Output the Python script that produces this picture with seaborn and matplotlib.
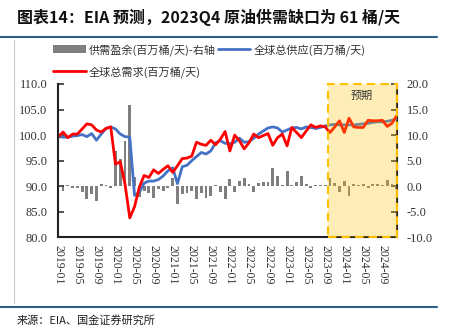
import numpy as np
import pandas as pd
import matplotlib
matplotlib.use('Agg')
import matplotlib.pyplot as plt
import seaborn as sns
from matplotlib.lines import Line2D
from matplotlib.patches import Patch, Rectangle

# ---------------- data ----------------
months = pd.date_range('2019-01-01', periods=72, freq='MS').strftime('%Y-%m').tolist()

demand = [99.7, 100.6, 99.5, 100.2, 100.2, 101.2, 102.2, 102.0, 101.0, 100.6, 101.3, 101.6,
          94.3, 94.8, 90.4, 83.8, 86.0, 89.8, 92.1, 91.7, 93.2, 92.5, 93.3, 94.0,
          92.7, 94.0, 95.4, 95.5, 95.9, 98.6, 98.2, 98.0, 99.0, 98.1, 99.2, 100.7,
          96.9, 100.0, 98.9, 97.3, 98.5, 100.2, 99.5, 99.9, 100.3, 98.0, 99.5, 100.2,
          97.9, 101.5, 100.5, 99.5, 100.8, 102.0, 101.5, 101.8, 101.6, 100.5, 101.6, 102.8,
          100.5, 103.3, 101.6, 101.5, 101.5, 102.9, 102.8, 102.8, 102.9, 101.7, 102.3, 103.8]

supply = [99.7, 99.6, 99.6, 99.8, 99.9, 100.1, 99.7, 100.3, 99.0, 100.2, 101.3, 101.6,
          101.2, 100.2, 99.7, 99.6, 88.2, 88.8, 90.6, 91.0, 91.0, 91.3, 92.0, 93.0,
          93.6, 90.5, 93.8, 94.1, 95.0, 95.8, 96.6, 96.3, 96.9, 98.5, 98.9, 98.4,
          98.3, 98.6, 99.4, 98.6, 98.7, 99.4, 100.2, 100.8, 101.4, 101.6, 101.4, 100.6,
          101.0, 101.4, 101.5, 101.2, 101.6, 101.5, 101.3, 101.5, 101.8, 102.0, 102.1, 102.0,
          102.0, 102.0, 102.0, 102.1, 102.2, 102.3, 102.5, 102.6, 102.6, 102.7, 102.9, 103.2]

surplus = [0.0, -1.0, 0.2, -0.3, -0.3, -1.2, -2.6, -1.6, -2.8, 0.4, 0.3, -0.3,
           6.9, 5.4, 8.8, 15.8, 1.8, -2.1, -1.0, -1.4, -2.3, -0.6, -1.0, -0.4,
           1.6, -3.5, -1.6, -1.3, -0.9, -2.6, -1.4, -2.4, -1.9, 0.3, -1.2, -2.5,
           1.4, -1.2, 1.0, 1.7, 0.5, -1.2, 0.7, 0.8, 0.9, 3.5, 2.0, 0.3,
           3.0, 0.3, 0.9, 2.0, 0.5, -0.3, 0.3, 0.3, 0.3, 1.6, 0.6, -1.2,
           1.0, -1.9, 0.5, 0.3, 0.5, -0.3, 0.4, 0.5, 0.2, 1.2, 0.5, -0.5]

tick_labels = months[::4]
forecast_start = 56.5
forecast_label = '预期'
series_names = ['供需盈余(百万桶/天)-右轴', '全球总需求(百万桶/天)', '全球总供应(百万桶/天)']
title = '图表14：EIA 预测，2023Q4 原油供需缺口为 61 桶/天'
source = '来源：EIA、国金证券研究所'

# ---------------- style ----------------
sns.set_theme(style='white')
plt.rcParams['font.family'] = ['Noto Sans CJK SC', 'DejaVu Sans']
plt.rcParams['axes.unicode_minus'] = False

GRAY = '#7F7F7F'
RED = '#FF0000'
BLUE = '#4472C4'

df = pd.DataFrame({'idx': np.arange(len(months)), 'month': months,
                   'demand': demand, 'supply': supply, 'surplus': surplus})

fig = plt.figure(figsize=(4.52, 3.35), dpi=100)
ax = fig.add_axes([58.3 / 452, 1 - 237.3 / 335, (396.7 - 58.3) / 452, (237.3 - 84) / 335])
ax2 = ax.twinx()

sns.barplot(data=df, x='idx', y='surplus', ax=ax2, native_scale=True, color=GRAY,
            width=0.6, saturation=1, errorbar=None, linewidth=0, edgecolor='none')

ax.set_zorder(ax2.get_zorder() + 1)
ax.patch.set_visible(False)

sns.lineplot(data=df, x='idx', y='supply', ax=ax, color=BLUE, lw=2)
sns.lineplot(data=df, x='idx', y='demand', ax=ax, color=RED, lw=2)

ax.set_xlim(0, len(months) - 1)
ax.set_ylim(80, 110)
ax2.set_ylim(-10, 20)

# forecast box
ax.axvspan(forecast_start, len(months) - 1, facecolor='#FFC000', alpha=0.28, lw=0, zorder=5)
ax.add_patch(Rectangle((forecast_start, 80), len(months) - 1 - forecast_start, 30, fill=False,
                       edgecolor='#FFC000', ls=(0, (4, 2.5)), lw=1.5, zorder=6, clip_on=False))
ax.text((forecast_start + len(months) - 1) / 2, 107.6, forecast_label, ha='center', va='center',
        fontsize=8, color='#333333', zorder=7)

# ticks
ax.set_xticks(range(0, len(months), 4))
ax.set_xticklabels(tick_labels, rotation=-90, fontsize=8.5, family='Liberation Serif',
                   ha='center', va='top')
ax.set_yticks(np.arange(80, 111, 5))
ax.set_yticklabels([f'{v:.1f}' for v in np.arange(80, 111, 5)], fontsize=9, family='Liberation Serif')
ax2.set_yticks(np.arange(-10, 21, 5))
ax2.set_yticklabels([f'{v:.1f}' for v in np.arange(-10, 21, 5)], fontsize=9, family='Liberation Serif')
ax.tick_params(axis='x', direction='in', length=4, width=1.2, pad=5.5, colors='#333333')
ax.tick_params(axis='y', direction='in', length=4, width=1.2, pad=8, colors='#333333', left=True)
ax2.tick_params(axis='y', direction='in', length=4, width=1.2, pad=7, colors='#333333', right=True)
for a in (ax, ax2):
    a.set_xlabel('')
    a.set_ylabel('')
for s in ['top', 'right']:
    ax.spines[s].set_visible(False)
for s in ['left', 'bottom']:
    ax.spines[s].set_color('#222222'); ax.spines[s].set_linewidth(1.5)
for s in ['top', 'left', 'bottom']:
    ax2.spines[s].set_visible(False)
ax2.spines['right'].set_color('#222222'); ax2.spines['right'].set_linewidth(1.5)

# legend
handles = [Patch(facecolor=GRAY, edgecolor='none'),
           Line2D([], [], color=RED, lw=2),
           Line2D([], [], color=BLUE, lw=2)]
fig.legend(handles, series_names, loc='upper left', bbox_to_anchor=(0.118, 0.87), ncol=2,
           frameon=False, fontsize=8, handlelength=2.9, handletextpad=0.3, columnspacing=0.2,
           labelspacing=0.95, borderpad=0, borderaxespad=0, labelcolor='#333333')

# decorations
fig.text(17 / 452, 1 - 17 / 335, title, fontsize=11.5, fontweight='bold', va='center', ha='left',
         color='#111111')
fig.add_artist(Line2D([0, 437 / 452], [1 - 37 / 335] * 2, color='#2E5E86', lw=1.5))
fig.add_artist(Line2D([0, 437 / 452], [1 - 307 / 335] * 2, color='#2E5E86', lw=1.5))
fig.add_artist(Line2D([14 / 452] * 2, [1 - 40 / 335, 1 - 303 / 335], color='#C8C8C8', lw=0.8))
fig.text(17 / 452, 1 - 320 / 335, source, fontsize=8, va='center', ha='left', color='#222222')

fig.savefig('out.png', dpi=100)
